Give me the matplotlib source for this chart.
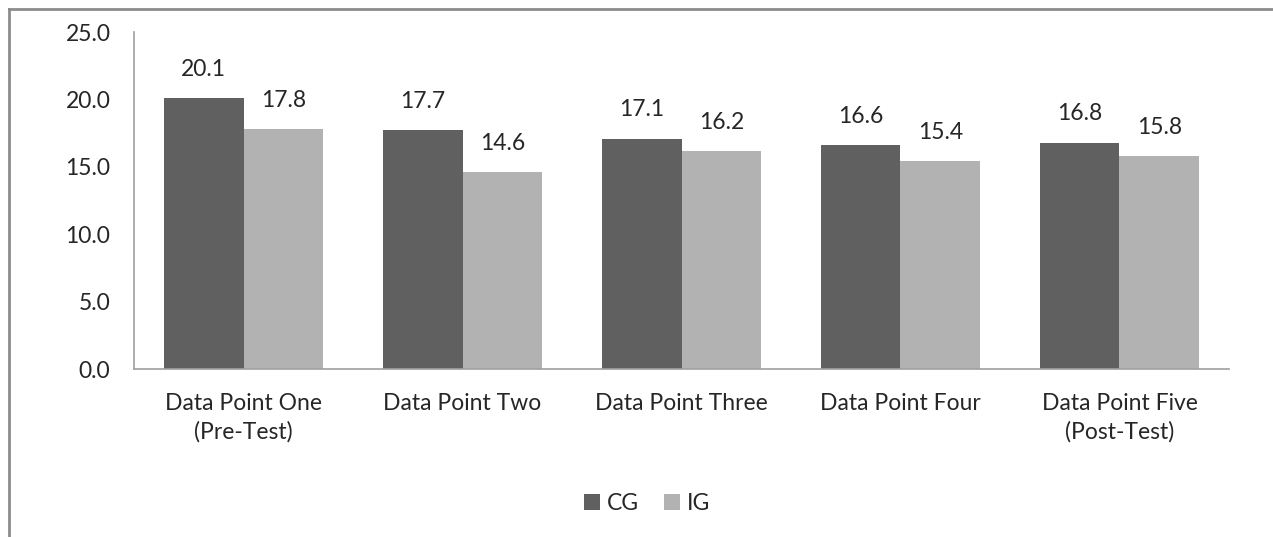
import matplotlib.pyplot as plt
import numpy as np
from matplotlib.lines import Line2D

categories = ["Data Point One\n(Pre-Test)", "Data Point Two", "Data Point Three",
              "Data Point Four", "Data Point Five\n(Post-Test)"]
cg_values = [20.1, 17.7, 17.1, 16.6, 16.8]
ig_values = [17.8, 14.6, 16.2, 15.4, 15.8]
y_ticks = [0, 5, 10, 15, 20, 25]


def main():
    plt.rcParams["font.family"] = ["Lato", "DejaVu Sans"]
    plt.rcParams["font.size"] = 16.5
    plt.rcParams["text.color"] = "#262626"

    fig = plt.figure(figsize=(12.73, 5.37), dpi=100)
    ax = fig.add_axes([0.1053, 0.3128, 0.8601, 0.6276])

    x = np.arange(len(categories))
    w = 0.365
    b1 = ax.bar(x - w / 2, cg_values, w, color="#606060", label="CG")
    b2 = ax.bar(x + w / 2, ig_values, w, color="#b2b2b2", label="IG")

    for bars, vals in ((b1, cg_values), (b2, ig_values)):
        for rect, v in zip(bars, vals):
            ax.annotate(f"{v:.1f}", (rect.get_x() + rect.get_width() / 2, v),
                        xytext=(0, 13), textcoords="offset points",
                        ha="center", va="bottom")

    ax.set_xlim(-0.5, len(categories) - 0.5)
    ax.set_ylim(0, 25)
    ax.set_yticks(y_ticks)
    ax.set_yticklabels([f"{t:.1f}" for t in y_ticks])
    ax.set_xticks(x)
    ax.set_xticklabels(categories, linespacing=1.45)
    ax.tick_params(axis="both", length=0, labelsize=16.5, colors="#262626")
    ax.tick_params(axis="y", pad=17)
    ax.tick_params(axis="x", pad=17)

    for side in ("top", "right"):
        ax.spines[side].set_visible(False)
    for side in ("left", "bottom"):
        ax.spines[side].set_color("#a0a0a0")
        ax.spines[side].set_linewidth(1.2)

    fig.legend(handles=[b1, b2], labels=["CG", "IG"], loc="center",
               bbox_to_anchor=(0.508, 0.062), ncol=2, frameon=False,
               handlelength=0.7, handleheight=0.7, handletextpad=0.3,
               columnspacing=1.1, fontsize=16.5)

    # outer chart frame (top and left edges)
    fig.add_artist(Line2D([8.5 / 1273, 1.0], [1 - 8.5 / 537] * 2,
                          transform=fig.transFigure, color="#8c8c8c", lw=2))
    fig.add_artist(Line2D([8.5 / 1273] * 2, [0.0, 1 - 8.5 / 537],
                          transform=fig.transFigure, color="#8c8c8c", lw=2))

    fig.savefig("out.png", dpi=100)
    plt.close(fig)


if __name__ == "__main__":
    main()
